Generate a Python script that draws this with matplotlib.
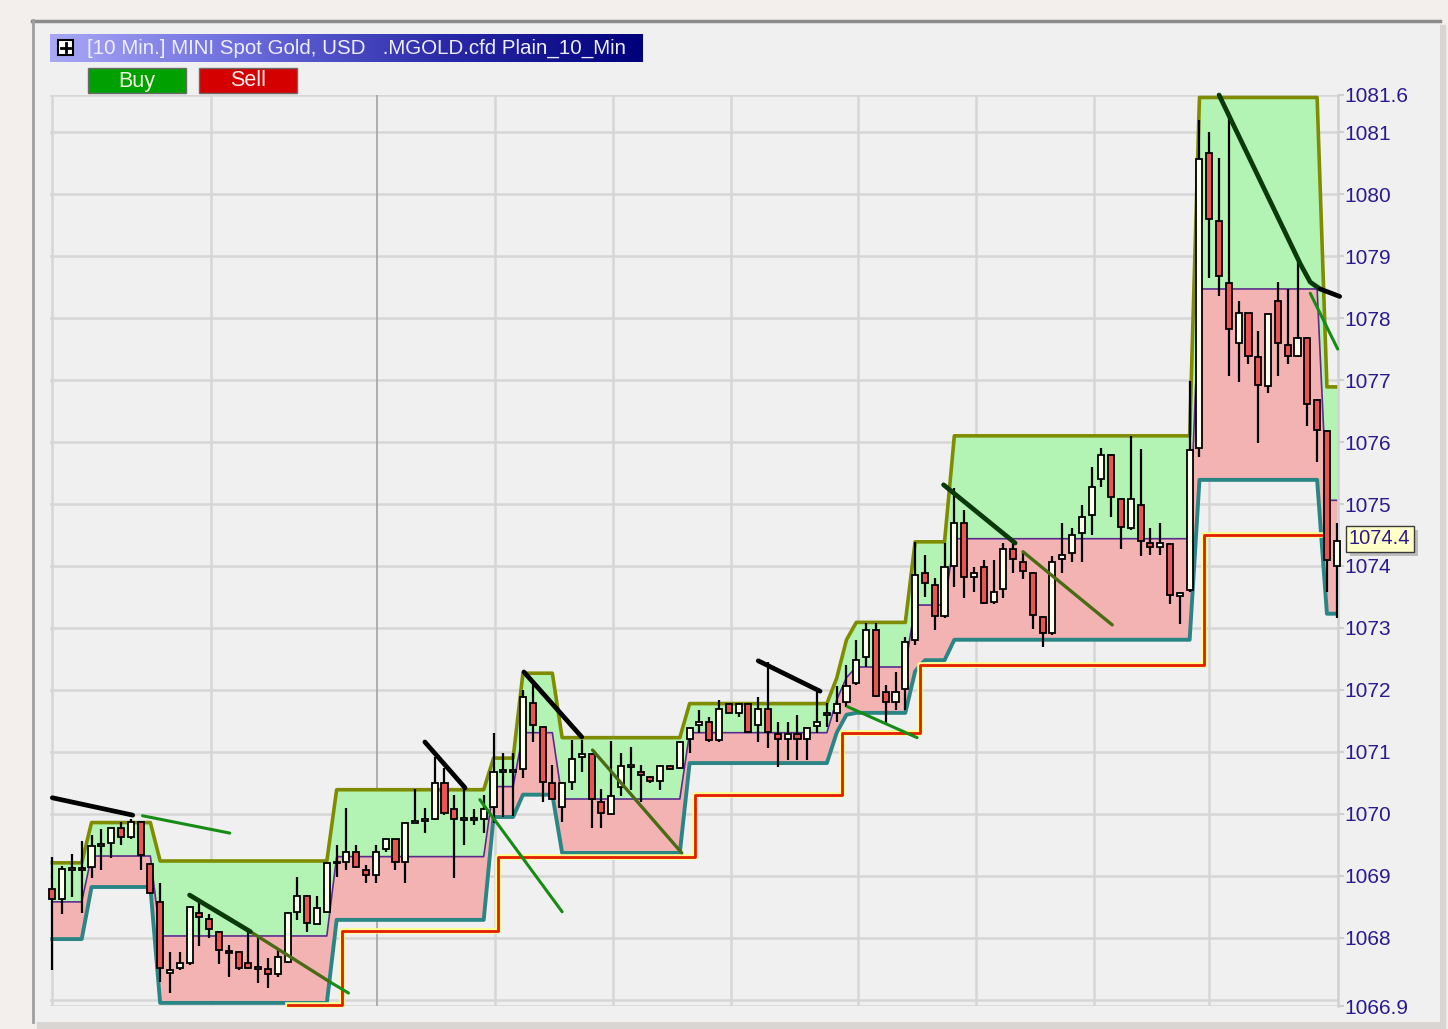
import numpy as np
import matplotlib
matplotlib.use("Agg")
import matplotlib.pyplot as plt
from matplotlib.patches import Rectangle
from matplotlib.colors import LinearSegmentedColormap
from matplotlib.transforms import blended_transform_factory
import matplotlib.patheffects as pe

plt.rcParams['font.family'] = ['Liberation Sans', 'DejaVu Sans']

# ---------------- data ----------------
opens = [1068.79, 1068.63, 1069.10, 1069.12, 1069.15, 1069.48, 1069.53, 1069.77, 1069.63, 1069.87,
         1069.19, 1068.58, 1067.43, 1067.51, 1067.60, 1068.40, 1068.31, 1068.10, 1067.78, 1067.77,
         1067.60, 1067.50, 1067.50, 1067.42, 1067.61, 1068.42, 1068.68, 1068.23, 1068.42, 1069.20,
         1069.23, 1069.39, 1069.10, 1069.02, 1069.43, 1069.59, 1069.23, 1069.86, 1069.89, 1069.92,
         1070.50, 1070.08, 1069.90, 1069.90, 1069.92, 1070.11, 1070.68, 1070.68, 1070.73, 1071.79,
         1071.40, 1070.50, 1070.11, 1070.52, 1070.92, 1070.97, 1070.19, 1070.00, 1070.44, 1070.76,
         1070.68, 1070.60, 1070.53, 1070.77, 1070.74, 1071.21, 1071.44, 1071.48, 1071.19, 1071.77,
         1071.63, 1071.77, 1071.44, 1071.69, 1071.29, 1071.21, 1071.29, 1071.21, 1071.42, 1071.59,
         1071.63, 1071.81, 1072.11, 1072.53, 1072.97, 1071.97, 1071.81, 1072.02, 1072.81, 1073.89,
         1073.69, 1073.19, 1074.00, 1074.69, 1073.82, 1073.98, 1073.42, 1073.63, 1074.27, 1074.06,
         1073.89, 1073.18, 1072.92, 1074.11, 1074.21, 1074.53, 1074.82, 1075.40, 1075.79, 1075.08,
         1074.61, 1074.98, 1074.37, 1074.31, 1074.35, 1073.52, 1073.61, 1075.90, 1080.66, 1079.56,
         1078.56, 1077.60, 1078.08, 1077.37, 1076.90, 1078.27, 1077.56, 1077.39, 1077.68, 1076.68,
         1076.18, 1074.00]
highs = [1069.31, 1069.16, 1069.35, 1069.56, 1069.66, 1069.75, 1069.78, 1069.87, 1069.92, 1069.88,
         1069.20, 1068.89, 1067.77, 1067.77, 1068.51, 1068.58, 1068.39, 1068.11, 1067.89, 1067.78,
         1068.10, 1068.03, 1067.68, 1067.81, 1068.41, 1068.98, 1068.69, 1068.68, 1069.21, 1069.50,
         1070.10, 1069.50, 1069.18, 1069.50, 1069.60, 1069.60, 1069.87, 1070.40, 1070.10, 1070.92,
         1070.74, 1070.31, 1070.44, 1070.08, 1070.31, 1071.31, 1070.98, 1070.98, 1072.00, 1072.08,
         1071.41, 1070.79, 1070.51, 1071.19, 1071.19, 1070.98, 1070.40, 1071.18, 1070.98, 1071.08,
         1070.79, 1070.61, 1070.79, 1070.79, 1071.18, 1071.40, 1071.68, 1071.56, 1071.84, 1071.79,
         1071.79, 1071.78, 1071.89, 1072.45, 1071.48, 1071.48, 1071.60, 1071.40, 1071.97, 1071.79,
         1072.06, 1072.40, 1072.81, 1073.08, 1073.08, 1072.08, 1072.29, 1072.86, 1074.39, 1074.18,
         1073.81, 1074.37, 1075.26, 1074.90, 1073.98, 1074.10, 1074.10, 1074.37, 1074.39, 1074.21,
         1073.90, 1073.19, 1074.16, 1074.69, 1074.61, 1074.98, 1075.60, 1075.90, 1075.80, 1075.09,
         1076.10, 1075.89, 1074.61, 1074.69, 1074.37, 1073.58, 1076.98, 1081.19, 1081.00, 1080.58,
         1081.26, 1078.27, 1078.09, 1077.79, 1078.08, 1078.58, 1078.47, 1078.90, 1077.69, 1076.69,
         1076.19, 1074.69]
lows = [1067.48, 1068.39, 1068.66, 1068.40, 1068.97, 1069.10, 1069.29, 1069.50, 1069.60, 1069.10,
        1068.70, 1067.29, 1067.11, 1067.48, 1067.56, 1067.87, 1068.00, 1067.58, 1067.37, 1067.48,
        1067.50, 1067.27, 1067.19, 1067.37, 1067.60, 1068.29, 1068.10, 1068.22, 1068.40, 1068.98,
        1069.10, 1069.13, 1068.89, 1068.89, 1069.39, 1069.10, 1068.89, 1069.85, 1069.69, 1069.90,
        1069.98, 1068.97, 1069.50, 1069.82, 1069.69, 1069.86, 1069.95, 1069.97, 1070.58, 1071.16,
        1070.19, 1070.23, 1069.87, 1070.39, 1070.68, 1069.77, 1069.77, 1069.98, 1070.29, 1070.39,
        1070.19, 1070.50, 1070.39, 1070.71, 1070.73, 1070.98, 1071.31, 1071.16, 1071.16, 1071.62,
        1071.56, 1071.31, 1071.16, 1071.06, 1070.76, 1070.87, 1070.87, 1070.87, 1071.31, 1071.40,
        1071.48, 1071.73, 1072.08, 1072.37, 1071.89, 1071.47, 1071.68, 1071.68, 1072.73, 1073.50,
        1072.97, 1073.16, 1073.66, 1073.48, 1073.58, 1073.39, 1073.39, 1073.48, 1073.89, 1073.79,
        1072.98, 1072.69, 1072.89, 1073.89, 1074.06, 1074.06, 1074.50, 1075.27, 1074.79, 1074.27,
        1074.58, 1074.16, 1074.18, 1074.18, 1073.39, 1073.06, 1073.58, 1075.76, 1078.64, 1078.35,
        1077.06, 1076.97, 1077.26, 1075.98, 1076.79, 1077.06, 1077.26, 1077.37, 1076.26, 1075.68,
        1073.58, 1073.16]
closes = [1068.63, 1069.11, 1069.12, 1069.10, 1069.48, 1069.49, 1069.77, 1069.63, 1069.87, 1069.34,
          1068.72, 1067.51, 1067.48, 1067.60, 1068.50, 1068.34, 1068.15, 1067.81, 1067.76, 1067.51,
          1067.51, 1067.50, 1067.42, 1067.69, 1068.40, 1068.68, 1068.24, 1068.48, 1069.20, 1069.21,
          1069.39, 1069.15, 1069.02, 1069.39, 1069.59, 1069.23, 1069.86, 1069.87, 1069.90, 1070.50,
          1070.02, 1069.92, 1069.91, 1069.91, 1070.08, 1070.68, 1070.69, 1070.69, 1071.89, 1071.44,
          1070.52, 1070.24, 1070.50, 1070.89, 1070.97, 1070.24, 1070.02, 1070.29, 1070.77, 1070.78,
          1070.63, 1070.53, 1070.77, 1070.73, 1071.16, 1071.39, 1071.48, 1071.19, 1071.69, 1071.63,
          1071.77, 1071.32, 1071.69, 1071.32, 1071.21, 1071.29, 1071.21, 1071.39, 1071.48, 1071.61,
          1071.77, 1072.06, 1072.48, 1072.97, 1071.90, 1071.81, 1071.97, 1072.77, 1073.86, 1073.73,
          1073.19, 1073.98, 1074.69, 1073.82, 1073.89, 1073.40, 1073.58, 1074.27, 1074.11, 1073.92,
          1073.21, 1072.92, 1074.06, 1074.18, 1074.50, 1074.79, 1075.27, 1075.79, 1075.11, 1074.63,
          1075.08, 1074.40, 1074.31, 1074.37, 1073.53, 1073.56, 1075.87, 1080.56, 1079.60, 1078.68,
          1077.82, 1078.08, 1077.39, 1076.92, 1078.07, 1077.60, 1077.39, 1077.68, 1076.61, 1076.19,
          1074.10, 1074.40]

band_runs = [4, 7, 18, 16, 3, 4, 13, 15, 1, 1, 6, 4, 25, 13, 2]
upper_levels = [1069.21, 1069.86, 1069.24, 1070.39, 1070.90, 1072.27, 1071.23, 1071.78,
                1072.19, 1072.81, 1073.09, 1074.39, 1076.10, 1081.56, 1076.89]
mid_levels = [1068.58, 1069.32, 1068.03, 1069.31, 1070.44, 1071.31, 1070.24, 1071.31,
              1071.84, 1072.20, 1072.37, 1073.37, 1074.44, 1078.47, 1075.06]
lower_runs = [4, 7, 18, 16, 3, 4, 13, 15, 1, 1, 6, 1, 3, 25, 13, 2]
lower_levels = [1067.98, 1068.82, 1066.95, 1068.29, 1069.95, 1070.31, 1069.37, 1070.82,
                1071.31, 1071.60, 1071.63, 1072.30, 1072.48, 1072.81, 1075.39, 1073.23]

stop_start = 24
stop_runs = [6, 16, 20, 15, 8, 29, 13]
stop_levels = [1066.92, 1068.11, 1069.31, 1070.31, 1071.31, 1072.40, 1074.50]

black_lines = [
    [(0.0, 1070.26), (8.2, 1069.98)],
    [(38.0, 1071.16), (42.1, 1070.42)],
    [(48.1, 1072.29), (54.0, 1071.24)],
    [(72.0, 1072.47), (78.3, 1071.98)],
    [(129.3, 1078.47), (131.3, 1078.35)],
]
darkgreen_lines = [
    [(14.0, 1068.69), (20.2, 1068.10)],
    [(90.9, 1075.31), (98.2, 1074.37)],
    [(119.0, 1081.60), (127.3, 1078.87), (128.3, 1078.58), (129.3, 1078.47)],
]
olive_lines = [
    [(20.2, 1068.10), (28.3, 1067.29)],
    [(55.1, 1071.03), (64.2, 1069.37)],
    [(99.0, 1074.23), (108.1, 1073.05)],
]
green_lines = [
    [(9.2, 1069.97), (18.1, 1069.69)],
    [(28.3, 1067.29), (30.2, 1067.11)],
    [(43.6, 1070.23), (52.0, 1068.42)],
    [(81.1, 1071.73), (88.2, 1071.23)],
    [(128.3, 1078.40), (131.1, 1077.50)],
]

y_ticks = [1066.9, 1068, 1069, 1070, 1071, 1072, 1073, 1074, 1075, 1076,
           1077, 1078, 1079, 1080, 1081, 1081.6]
y_tick_labels = ['1066.9', '1068', '1069', '1070', '1071', '1072', '1073', '1074', '1075',
                 '1076', '1077', '1078', '1079', '1080', '1081', '1081.6']
extra_grid = [1067]
time_grid = [0, 16.15, 33.1, 45.2, 57.2, 69.2, 82.2, 94.2, 106.2, 118.0]
day_break = 33.1
last_price = 1074.4
title = "[10 Min.] MINI Spot Gold, USD   .MGOLD.cfd Plain_10_Min"

# ---------------- figure ----------------
W, H = 1448, 1029
fig = plt.figure(figsize=(W / 100, H / 100), dpi=100)
fig.patch.set_facecolor('#f3efec')

bg = fig.add_axes([0, 0, 1, 1], zorder=0)
bg.set_xlim(0, W)
bg.set_ylim(H, 0)
bg.axis('off')
bg.add_patch(Rectangle((37, 25), 1408, 1003, color='#d8d5d3', zorder=0))
bg.add_patch(Rectangle((32, 20), 1408, 1002, facecolor='#f0f0f0', edgecolor='none', zorder=1))
bg.plot([32, 1440], [21, 21], color='#8c8c8c', lw=2.5, zorder=2)
bg.plot([33, 33], [20, 1022], color='#a0a0a0', lw=2, zorder=2)

# title bar
grad = np.linspace(0, 1, 256).reshape(1, -1)
cmap = LinearSegmentedColormap.from_list('tb', ['#a8a8f6', '#6a6adc', '#2a2aa8', '#00007c'])
bg.imshow(grad, extent=[50, 643, 62, 34], aspect='auto', cmap=cmap, zorder=3)
bg.add_patch(Rectangle((58, 40), 15, 15, facecolor='white', edgecolor='black', lw=1.5, zorder=4))
bg.plot([61, 70], [47.5, 47.5], color='black', lw=2, zorder=5)
bg.plot([65.5, 65.5], [43, 52], color='black', lw=2, zorder=5)
bg.text(87, 48.5, title, color='#eeeeff', fontsize=14.8, va='center', ha='left', zorder=5)

# buttons
bg.add_patch(Rectangle((88, 68), 98, 25, facecolor='#00a000', edgecolor='#6a6a6a', lw=1, zorder=4))
bg.text(137, 81, 'Buy', color='#eef6dd', fontsize=15.5, va='center', ha='center', zorder=5)
bg.add_patch(Rectangle((199, 68), 98, 25, facecolor='#d40000', edgecolor='#6a6a6a', lw=1, zorder=4))
bg.text(248, 81, 'Sell', color='#ffecec', fontsize=15.5, va='center', ha='center', zorder=5)

# main axes
ax = fig.add_axes([50 / W, 1 - 1006 / H, (1338 - 50) / W, (1006 - 95) / H], zorder=1)
ax.set_facecolor('#f0f0f0')
n = len(opens)
x = np.arange(n)
o = np.array(opens); h = np.array(highs); l = np.array(lows); c = np.array(closes)
ax.set_xlim(-0.235, 131.13)
ax.set_ylim(1066.9, 1081.6)

for yv in y_ticks + extra_grid:
    ax.axhline(yv, color='#d6d6d6', lw=1.8, zorder=0)
for tv in time_grid:
    if tv == day_break:
        ax.axvline(tv, color='#a9a9a9', lw=1.3, zorder=0)
    else:
        ax.axvline(tv, color='#d6d6d6', lw=1.8, zorder=0)

upper = np.repeat(upper_levels, band_runs)
mid = np.repeat(mid_levels, band_runs)
lower = np.repeat(lower_levels, lower_runs)
ax.fill_between(x, mid, upper, color='#b3f3b3', lw=0, zorder=1)
ax.fill_between(x, lower, mid, color='#f3b3b3', lw=0, zorder=1)
ax.plot(x, upper, color='#7f8c00', lw=2.6, zorder=2)
ax.plot(x, lower, color='#2a8585', lw=2.8, zorder=2)
ax.plot(x, mid, color='#5c2b8a', lw=1.2, zorder=2)

sx = np.arange(stop_start, stop_start + sum(stop_runs))
sy = np.repeat(stop_levels, stop_runs)
ax.plot(sx, sy, drawstyle='steps-mid', color='#ffff8a', lw=4.0, zorder=2.5, clip_on=False)
ax.plot(sx, sy, drawstyle='steps-mid', color='#e41c00', lw=2.0, zorder=2.6, clip_on=False)

# candles
up = c >= o
ax.vlines(x, l, h, color='black', lw=1.6, zorder=4)
bottoms = np.minimum(o, c)
heights = np.maximum(np.abs(c - o), 0.03)
ax.bar(x, heights, bottom=bottoms, width=0.62,
       color=np.where(up, '#fffff0', '#e65656'), edgecolor='black', linewidth=1.3,
       zorder=5, clip_on=False)

def draw(lines, color, lw):
    for seg in lines:
        xs = [p[0] for p in seg]
        ys = [p[1] for p in seg]
        ax.plot(xs, ys, color=color, lw=lw, zorder=6, solid_capstyle='round', clip_on=False)

draw(olive_lines, '#4a6a14', 2.4)
draw(green_lines, '#168c16', 2.2)
draw(darkgreen_lines, '#0a3a0a', 3.4)
draw(black_lines, '#000000', 3.4)

# axes styling
for s in ['left', 'top', 'bottom']:
    ax.spines[s].set_visible(False)
ax.spines['right'].set_color('#d0d0d0')
ax.spines['right'].set_linewidth(1.8)
ax.set_xticks([])
ax.yaxis.tick_right()
ax.set_yticks(y_ticks)
ax.set_yticklabels(y_tick_labels)
ax.tick_params(axis='y', length=4, width=1.5, color='#cfcfcf', pad=0.5,
               labelsize=15, labelcolor='#2a1a8e')

# last price tooltip with drop shadow on its box
tr = blended_transform_factory(ax.transAxes, ax.transData)
tip = ax.text(1.0085, last_price + 0.04, f'{last_price:.1f}', color='#2a1a8e', fontsize=14.5,
              va='center', ha='left', transform=tr,
              bbox=dict(boxstyle='square,pad=0.17', fc='#ffffc8', ec='#3a3a3a', lw=1),
              zorder=10, clip_on=False)
tip.get_bbox_patch().set_path_effects([
    pe.SimplePatchShadow(offset=(3, -3), shadow_rgbFace='#a8a8a8', alpha=0.7),
    pe.Normal()])

fig.savefig('out.png', dpi=100, facecolor=fig.get_facecolor())
